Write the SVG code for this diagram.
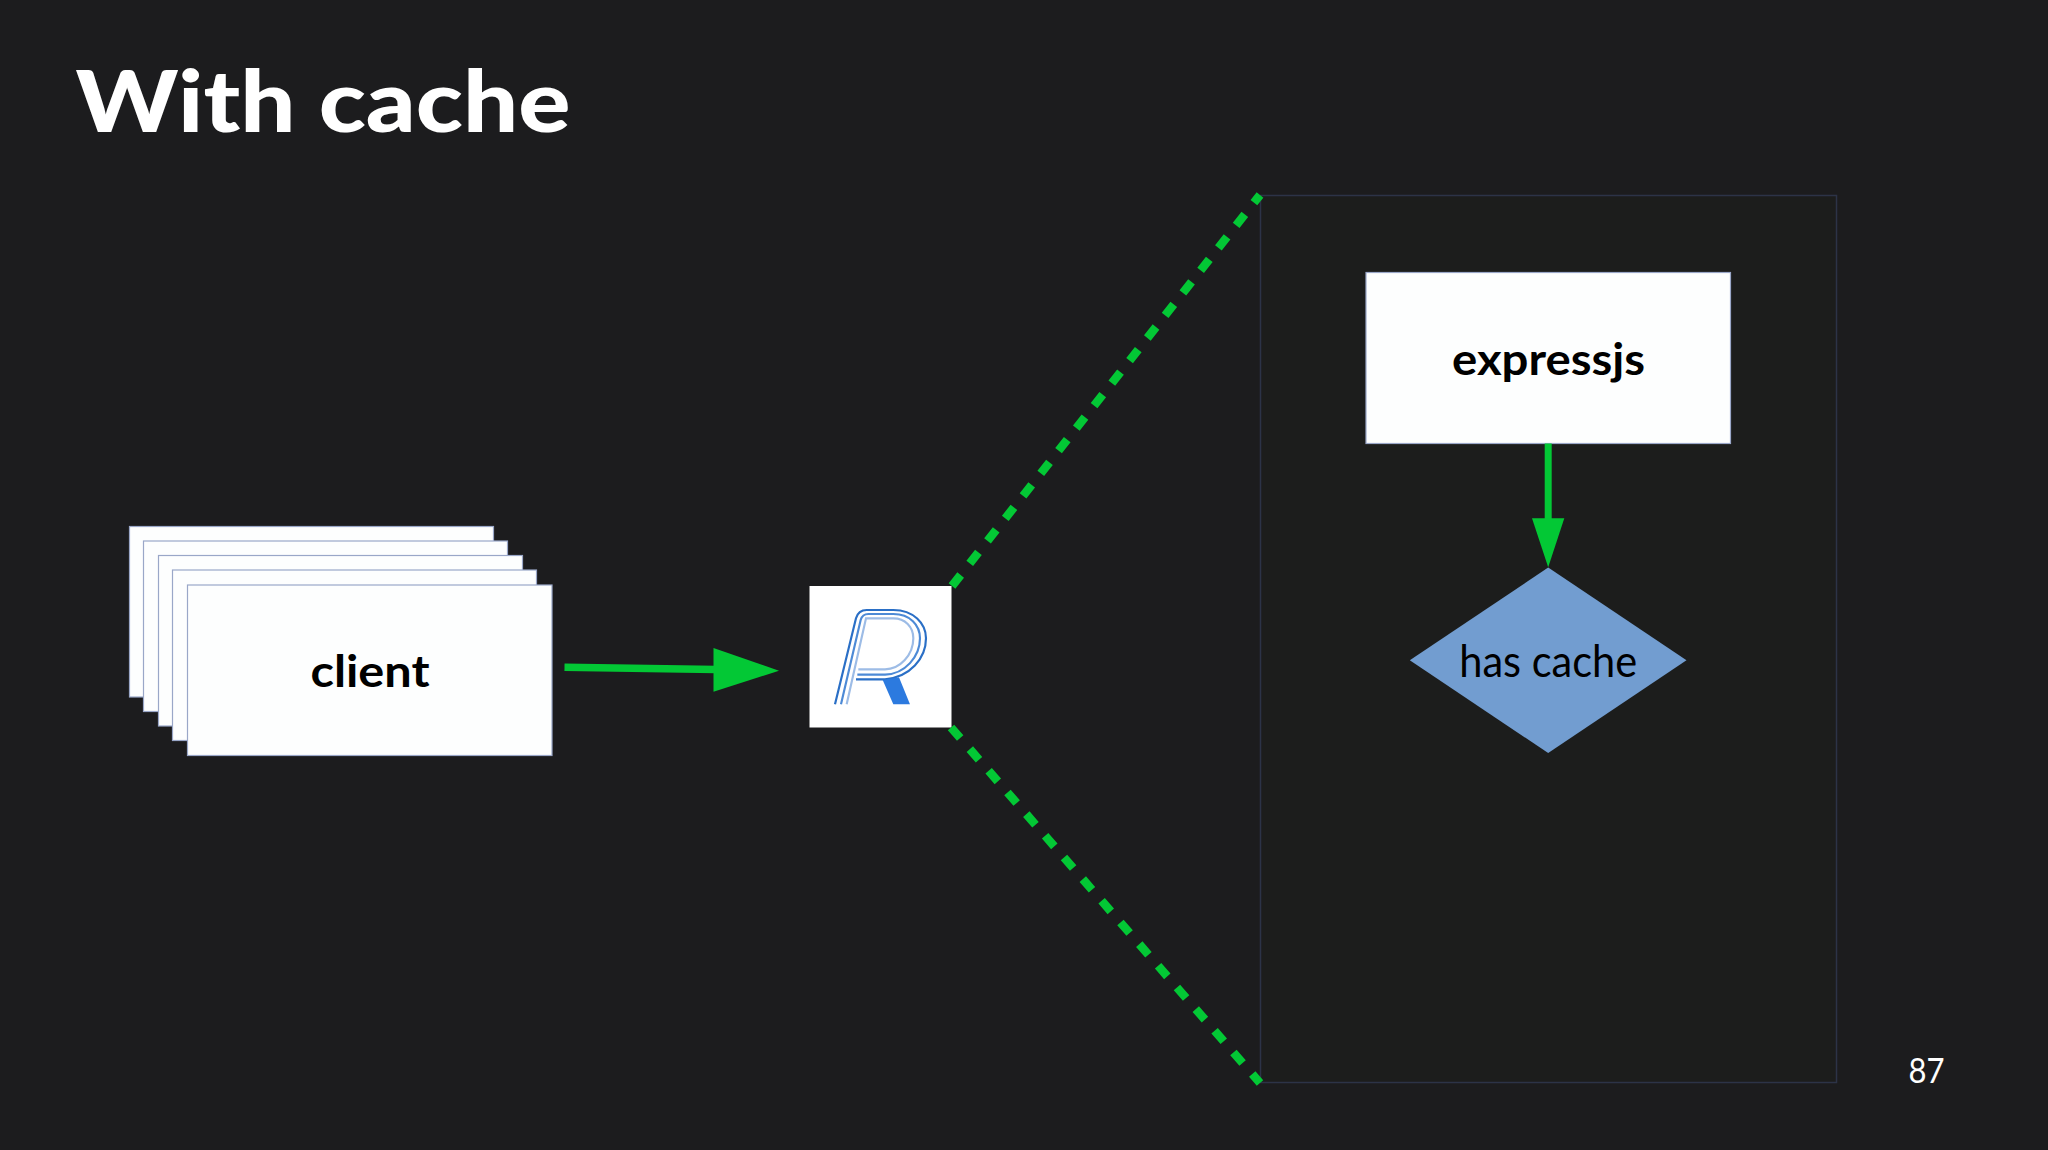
<svg xmlns="http://www.w3.org/2000/svg" width="2048" height="1150" viewBox="0 0 2048 1150">
  <style>
    text { font-family: "Lato", "Noto Sans", sans-serif; }
    .b { font-weight: 700; }
    .t { font-weight: 900; }
    .card { fill: #fdfefe; stroke: #9aa7c8; stroke-width: 1.2; }
    .green { stroke: #03c835; fill: none; }
    .head { fill: #03c835; }
    .dash { stroke: #03c835; stroke-width: 8.5; stroke-dasharray: 14 14.7; fill: none; }
    .lbl { fill: #000; text-anchor: middle; }
    .logo { fill: none; stroke-width: 6.5; }
  </style>
  <rect id="background" width="2048" height="1150" fill="#1c1c1e"/>
  <text id="title" class="t" x="75.5" y="132" font-size="86" fill="#fff" textLength="495" lengthAdjust="spacingAndGlyphs">With cache</text>
  <text id="page-number" x="1908.5" y="1082.5" font-size="35" fill="#fff" textLength="36" lengthAdjust="spacingAndGlyphs">87</text>

  <g id="panel"><rect x="1260.5" y="195.5" width="576" height="887" fill="#1c1d1c" stroke="#2c3347" stroke-width="1.5"/></g>

  <g id="client-stack">
    <rect class="card" x="129.5" y="526.5" width="364" height="170.5"/>
    <rect class="card" x="143.5" y="541" width="364" height="170.5"/>
    <rect class="card" x="158.5" y="555.5" width="364" height="170.5"/>
    <rect class="card" x="172.5" y="570" width="364" height="170.5"/>
    <rect class="card" x="187.5" y="585" width="364.5" height="170.5"/>
    <text class="lbl b" x="370" y="686.5" font-size="43" textLength="119" lengthAdjust="spacingAndGlyphs">client</text>
  </g>

  <g id="proxy">
    <rect x="809.5" y="586" width="142" height="141.5" fill="#fff"/>
    <g transform="translate(830 600) scale(0.3333)">
      <path class="logo" stroke="#2a6fc6" d="M15 313 L78 55 Q85 30 110 30 L190 30 C250 30 288 70 288 115 C288 175 240 232 165 238 L78 238"/>
      <path class="logo" stroke="#4d8ad6" d="M33 313 L92 60 Q97 42 115 42 L190 42 C240 42 270 75 270 115 C270 170 225 222 165 224 L82 224"/>
      <path class="logo" stroke="#9dbce6" d="M50 313 L108 55 L190 55 C225 55 250 80 250 115 C250 165 210 208 165 208 L85 208"/>
      <polygon points="158,240 207,232 240,313 190,313" fill="#2c7adf"/>
    </g>
  </g>

  <g id="expressjs">
    <rect class="card" x="1366" y="272.5" width="364.5" height="171"/>
    <text class="lbl b" x="1548.5" y="375" font-size="43" textLength="193" lengthAdjust="spacingAndGlyphs">expressjs</text>
  </g>

  <g id="has-cache">
    <polygon points="1548.2,567.5 1686.5,660.3 1548.2,753 1409.8,660.3" fill="#729dd0"/>
    <text class="lbl" x="1548.2" y="676.5" font-size="44" textLength="178" lengthAdjust="spacingAndGlyphs">has cache</text>
  </g>

  <g id="connectors">
    <line class="green" x1="564.5" y1="667.3" x2="716" y2="669.4" stroke-width="7.5"/>
    <polygon class="head" points="713.5,648 779,670.7 713.5,691.7"/>
    <line class="green" x1="1548.2" y1="443.5" x2="1548.2" y2="520" stroke-width="7"/>
    <polygon class="head" points="1532,518.3 1564.3,518.3 1548.2,567.3"/>
    <line class="dash" x1="952" y1="586" x2="1260" y2="195"/>
    <line class="dash" x1="951" y1="727.5" x2="1260" y2="1083"/>
  </g>
</svg>
